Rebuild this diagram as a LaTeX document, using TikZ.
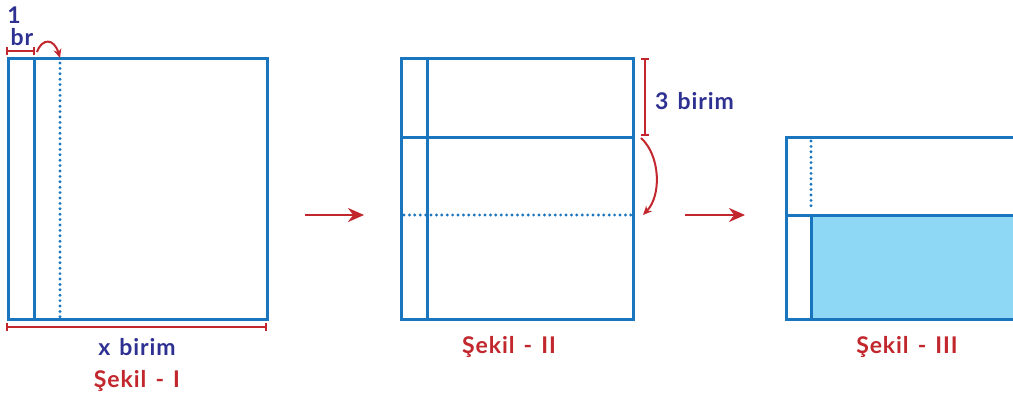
\documentclass[tikz,border=0pt]{standalone}
\usepackage{fontspec}
\setmainfont{Lato}[LetterSpace=4,WordSpace=1.4]
\usetikzlibrary{arrows.meta}
\definecolor{lblue}{HTML}{1A75BF}
\definecolor{tblue}{HTML}{2E3192}
\definecolor{tred}{HTML}{C1272D}
\definecolor{fillb}{HTML}{8FD8F5}
\tikzset{
  shapeline/.style={draw=lblue,line width=3pt},
  dotline/.style={draw=lblue,line width=3.2pt,line cap=round,dash pattern=on 0pt off 5.4pt},
  measure/.style={draw=tred,line width=2pt,{Bar[width=8pt]}-{Bar[width=8pt]}},
  curvearrow/.style={draw=tred,line width=2pt,-{Stealth[length=9pt,width=8pt]}},
  bigarrow/.style={draw=tred,line width=2.4pt,-{Stealth[length=16pt,width=14pt]}},
  bluetext/.style={text=tblue,font=\bfseries\fontsize{23}{26}\selectfont,inner sep=0pt},
  redtext/.style={text=tred,font=\bfseries\fontsize{23}{26}\selectfont,inner sep=0pt}
}
\begin{document}
\begin{tikzpicture}[x=1pt,y=-1pt]
\useasboundingbox (0,0) rectangle (1013,396);
\clip (0,0) rectangle (1013,396);
% Figure I
\draw[shapeline] (8,59) rectangle (267,319);
\draw[shapeline] (34,59) -- (34,319);
\draw[dotline] (60,63) -- (60,317);
\coordinate (b1a) at (6,51);
\coordinate (b1b) at (35,51);
\draw[measure] (b1a) -- (b1b);
\node[bluetext] (one) at (14,15) {1};
\node[bluetext] (br) at (22,37) {br};
\coordinate (c1s) at (37,52);
\coordinate (c1e) at (60,58);
\draw[curvearrow] (c1s) .. controls (42,38) and (54,38) .. (c1e);
\coordinate (xa) at (6,327);
\coordinate (xb) at (267,327);
\draw[measure] (xa) -- (xb);
\node[bluetext] (xbirim) at (137,347) {x birim};
\node[redtext] (s1) at (137,381) {Şekil - I};
% arrow 1
\coordinate (a1s) at (305,215);
\coordinate (a1e) at (364,215);
\draw[bigarrow] (a1s) -- (a1e);
% Figure II
\draw[shapeline] (401,59) rectangle (633,319);
\draw[shapeline] (427,59) -- (427,319);
\draw[shapeline] (401,137) -- (633,137);
\draw[dotline] (404,215) -- (631,215);
\coordinate (b2a) at (645,58);
\coordinate (b2b) at (645,136);
\draw[measure] (b2a) -- (b2b);
\node[bluetext,anchor=west] (three) at (655,101) {3 birim};
\coordinate (c2s) at (641,138);
\coordinate (c2e) at (643,215);
\draw[curvearrow] (c2s) .. controls (660,155) and (662,195) .. (c2e);
\node[redtext] (s2) at (509,347) {Şekil - II};
% arrow 2
\coordinate (a2s) at (685,215);
\coordinate (a2e) at (745,215);
\draw[bigarrow] (a2s) -- (a2e);
% Figure III
\fill[fillb] (811,215) rectangle (1030,319);
\draw[shapeline] (786,137) rectangle (1030,319);
\draw[shapeline] (786,215) -- (1030,215);
\draw[shapeline] (811,215) -- (811,319);
\draw[dotline] (811,141) -- (811,211);
\node[redtext] (s3) at (907,347) {Şekil - III};
\end{tikzpicture}
\end{document}
